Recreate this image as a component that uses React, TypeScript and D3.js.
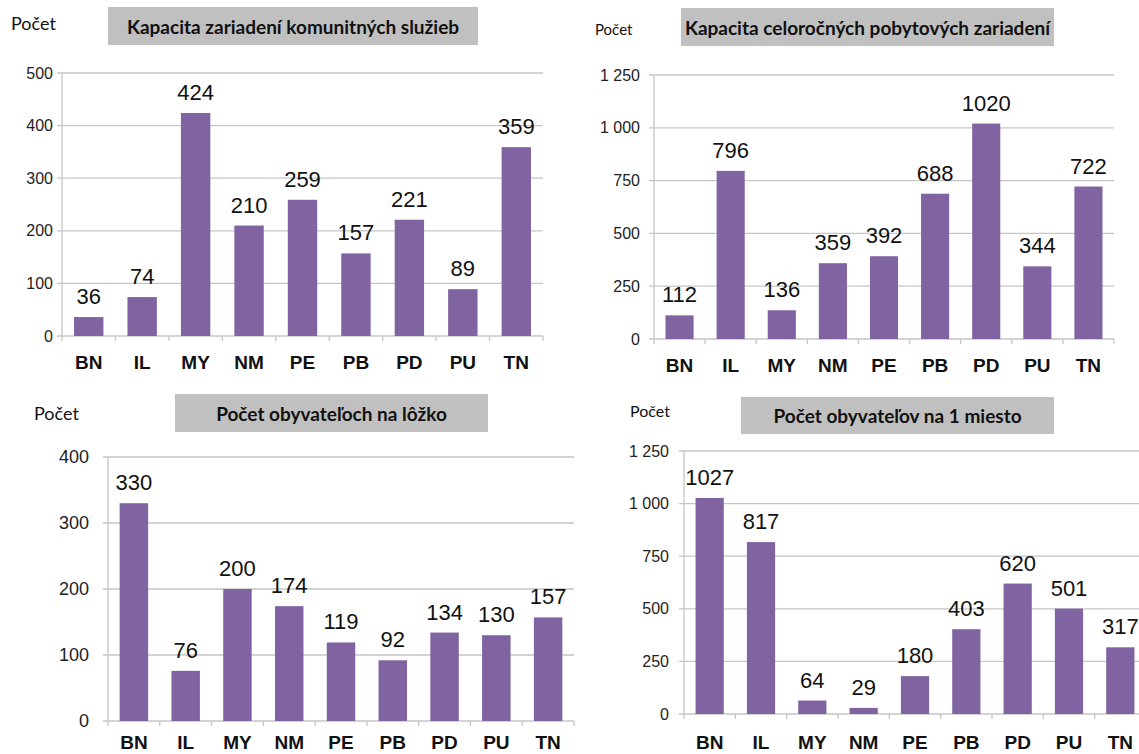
import React from "react";
import * as d3 from "d3";

const categories = ["BN", "IL", "MY", "NM", "PE", "PB", "PD", "PU", "TN"];
const kapacitaKomunitne = [36, 74, 424, 210, 259, 157, 221, 89, 359];
const kapacitaCelorocne = [112, 796, 136, 359, 392, 688, 1020, 344, 722];
const obyvatelovNaLozko = [330, 76, 200, 174, 119, 92, 134, 130, 157];
const obyvatelovNaMiesto = [1027, 817, 64, 29, 180, 403, 620, 501, 317];

const ticks500 = [0, 100, 200, 300, 400, 500];
const ticks1250 = [0, 250, 500, 750, 1000, 1250];
const ticks400 = [0, 100, 200, 300, 400];

const titles = [
  "Kapacita zariadení komunitných služieb",
  "Kapacita celoročných pobytových zariadení",
  "Počet obyvateľoch na lôžko",
  "Počet obyvateľov na 1 miesto",
];
const yLabel = "Počet";

const BAR = "#8064a2";
const GRID = "#c6c6c6";
const BOX = "#c0c0c0";

const fmt = (v: number) => {
  const s = String(v);
  return s.length > 3 ? s.slice(0, s.length - 3) + " " + s.slice(-3) : s;
};

type PanelProps = {
  values: number[];
  ticks: number[];
  title: string;
  left: number;
  right: number;
  top: number;
  bottom: number;
  box: [number, number, number, number];
  pocet: [number, number, number];
  tickFont: number;
  tickGap: number;
  catBaseline: number;
};

function Panel(p: PanelProps) {
  const x = d3
    .scaleBand<string>()
    .domain(categories)
    .range([p.left, p.right])
    .paddingInner(0.45)
    .paddingOuter(0.225);
  const step = (p.right - p.left) / categories.length;
  const y = d3
    .scaleLinear()
    .domain([0, p.ticks[p.ticks.length - 1]])
    .range([p.bottom, p.top]);
  const [bx, by, bw, bh] = p.box;
  return (
    <g>
      <text
        x={p.pocet[0]}
        y={p.pocet[1]}
        fontFamily="Lato, 'Open Sans', sans-serif"
        fontSize={p.pocet[2]}
        dominantBaseline="central"
        fill="#111"
      >
        {yLabel}
      </text>
      <rect x={bx} y={by} width={bw} height={bh} fill={BOX} />
      <text
        x={bx + bw / 2}
        y={by + bh / 2}
        textAnchor="middle"
        dominantBaseline="central"
        fontFamily="Lato, 'Open Sans', sans-serif"
        fontWeight="bold"
        fontSize={19}
        fill="#111"
      >
        {p.title}
      </text>
      {p.ticks.map((t) => (
        <g key={t}>
          <line
            x1={p.left - 5}
            x2={p.right}
            y1={y(t)}
            y2={y(t)}
            stroke={GRID}
            strokeWidth={1.3}
          />
          <text
            x={p.left - p.tickGap}
            y={y(t)}
            textAnchor="end"
            dominantBaseline="central"
            fontFamily="'Liberation Sans', Arial, sans-serif"
            fontSize={p.tickFont}
            fill="#222"
          >
            {fmt(t)}
          </text>
        </g>
      ))}
      <line
        x1={p.left}
        x2={p.left}
        y1={p.top}
        y2={p.bottom}
        stroke={GRID}
        strokeWidth={1.3}
      />
      {d3.range(categories.length + 1).map((i) => (
        <line
          key={i}
          x1={p.left + i * step}
          x2={p.left + i * step}
          y1={p.bottom}
          y2={p.bottom + 5}
          stroke={GRID}
          strokeWidth={1.3}
        />
      ))}
      {categories.map((c, i) => {
        const v = p.values[i];
        const cx = (x(c) as number) + x.bandwidth() / 2;
        return (
          <g key={c}>
            <rect
              x={x(c)}
              y={y(v)}
              width={x.bandwidth()}
              height={p.bottom - y(v)}
              fill={BAR}
            />
            <text
              x={cx}
              y={y(v) - 13}
              textAnchor="middle"
              fontFamily="'Liberation Sans', Arial, sans-serif"
              fontSize={22}
              fill="#111"
            >
              {v}
            </text>
            <text
              x={cx}
              y={p.catBaseline}
              textAnchor="middle"
              fontFamily="'Liberation Sans', Arial, sans-serif"
              fontWeight="bold"
              fontSize={19}
              fill="#111"
            >
              {c}
            </text>
          </g>
        );
      })}
    </g>
  );
}

export default function App() {
  return (
    <svg
      width={1139}
      height={754}
      style={{ position: "absolute", left: 0, top: 0, background: "#fff" }}
    >
      <rect width={1139} height={754} fill="#fff" />
      <Panel
        values={kapacitaKomunitne}
        ticks={ticks500}
        title={titles[0]}
        left={62}
        right={543}
        top={73}
        bottom={336}
        box={[108, 7, 370, 38]}
        pocet={[11, 23, 18]}
        tickFont={16}
        tickGap={9}
        catBaseline={369}
      />
      <Panel
        values={kapacitaCelorocne}
        ticks={ticks1250}
        title={titles[1]}
        left={654}
        right={1114}
        top={75}
        bottom={339}
        box={[681, 8, 373, 38]}
        pocet={[595, 29, 15]}
        tickFont={16}
        tickGap={14}
        catBaseline={372}
      />
      <Panel
        values={obyvatelovNaLozko}
        ticks={ticks400}
        title={titles[2]}
        left={108}
        right={574}
        top={457}
        bottom={721}
        box={[175, 394, 313, 38]}
        pocet={[34, 413, 18]}
        tickFont={18}
        tickGap={19}
        catBaseline={749}
      />
      <Panel
        values={obyvatelovNaMiesto}
        ticks={ticks1250}
        title={titles[3]}
        left={684}
        right={1146}
        top={451}
        bottom={714}
        box={[741, 397, 313, 37]}
        pocet={[630, 410, 16]}
        tickFont={16}
        tickGap={15}
        catBaseline={749}
      />
    </svg>
  );
}
